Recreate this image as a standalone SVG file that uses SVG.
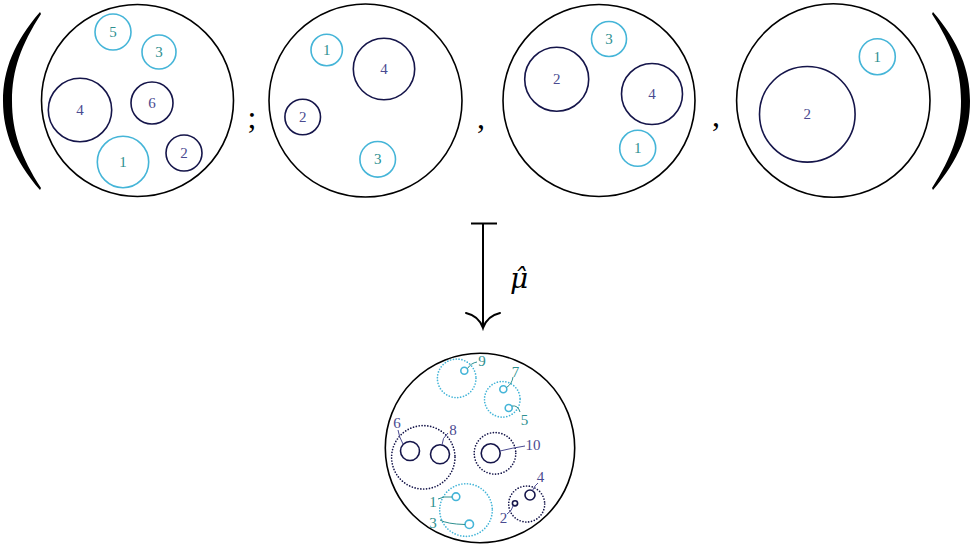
<svg xmlns="http://www.w3.org/2000/svg" width="971" height="545" viewBox="0 0 971 545">
<style>
.big{fill:none;stroke:#000;stroke-width:1.6}
.cy{fill:none;stroke:#45B5D8;stroke-width:1.6}
.nv{fill:none;stroke:#15154A;stroke-width:1.6}
.cyd{fill:none;stroke:#45B5D8;stroke-width:1.7;stroke-dasharray:0 2.9;stroke-linecap:round}
.nvd{fill:none;stroke:#15154A;stroke-width:1.7;stroke-dasharray:0 2.9;stroke-linecap:round}
.tc{font-family:"Liberation Serif","DejaVu Serif",serif;font-size:15px;fill:#2E9090;text-anchor:middle}
.tn{font-family:"Liberation Serif","DejaVu Serif",serif;font-size:15px;fill:#4A4A90;text-anchor:middle}
.lc{fill:none;stroke:#2E9090;stroke-width:1}
.ln{fill:none;stroke:#4A4A90;stroke-width:1}
.punct{font-family:"Liberation Serif","DejaVu Serif",serif;font-size:32px;fill:#000;text-anchor:middle}
</style>
<rect width="971" height="545" fill="#fff"/>
<g id="paren-left"><path d="M40,12 C14,42 3,70 3,101 C3,132 14,160 40,190 L41,188 C21,157 12,132 12,101 C12,70 21,45 41,14 Z" fill="#000"/></g>
<g id="paren-right" transform="translate(973,0) scale(-1,1)"><path d="M40,12 C14,42 3,70 3,101 C3,132 14,160 40,190 L41,188 C21,157 12,132 12,101 C12,70 21,45 41,14 Z" fill="#000"/></g>
<g id="punct">
<text class="punct" x="252" y="128">;</text>
<text class="punct" x="481" y="128">,</text>
<text class="punct" x="716" y="126">,</text>
</g>
<g id="config1">
<circle class="big" cx="137.5" cy="100.5" r="96"/>
<circle class="cy" cx="113" cy="32" r="18"/><text class="tc" x="113" y="37">5</text>
<circle class="cy" cx="159" cy="52" r="17"/><text class="tc" x="159" y="57">3</text>
<circle class="nv" cx="80" cy="110" r="31.7"/><text class="tn" x="80" y="115">4</text>
<circle class="nv" cx="152" cy="103" r="21"/><text class="tn" x="152" y="108">6</text>
<circle class="cy" cx="123" cy="162" r="25.7"/><text class="tc" x="123" y="167">1</text>
<circle class="nv" cx="184" cy="153" r="18"/><text class="tn" x="184" y="158">2</text>
</g>
<g id="config2">
<circle class="big" cx="365.5" cy="100.5" r="96.5"/>
<circle class="cy" cx="326.7" cy="50" r="15.7"/><text class="tc" x="326.7" y="55">1</text>
<circle class="nv" cx="384" cy="69" r="30.7"/><text class="tn" x="384" y="74">4</text>
<circle class="nv" cx="302.7" cy="117" r="17.8"/><text class="tn" x="302.7" y="122">2</text>
<circle class="cy" cx="377.7" cy="159.3" r="17.8"/><text class="tc" x="377.7" y="164.3">3</text>
</g>
<g id="config3">
<circle class="big" cx="599" cy="100.5" r="96"/>
<circle class="cy" cx="609" cy="39" r="17.5"/><text class="tc" x="609" y="44">3</text>
<circle class="nv" cx="556.7" cy="79.3" r="32"/><text class="tn" x="556.7" y="84.3">2</text>
<circle class="nv" cx="652" cy="94" r="30.5"/><text class="tn" x="652" y="99">4</text>
<circle class="cy" cx="637.7" cy="148.3" r="18"/><text class="tc" x="637.7" y="153.3">1</text>
</g>
<g id="config4">
<circle class="big" cx="833.3" cy="100.5" r="96.7"/>
<circle class="cy" cx="877.3" cy="56.7" r="18"/><text class="tc" x="877.3" y="61.7">1</text>
<circle class="nv" cx="807.3" cy="114.3" r="47.8"/><text class="tn" x="807.3" y="119.3">2</text>
</g>
<g id="connectors">
<path d="M471,223.5 H497" stroke="#000" stroke-width="2" fill="none"/>
<path d="M483,223.5 V328" stroke="#000" stroke-width="2" fill="none"/>
<path d="M466,313 Q479,316 483,328 Q487,316 500,313" stroke="#000" stroke-width="2" fill="none" stroke-linecap="round"/>
</g>
<g id="map-label">
<text x="519" y="288" text-anchor="middle" font-family="'DejaVu Serif',serif" font-style="italic" font-size="28" fill="#000">μ̂</text>
</g>
<g id="result">
<circle class="big" cx="480" cy="448" r="94.7"/>
<circle class="cyd" cx="456.7" cy="378.3" r="19.3"/>
<circle class="cy" cx="464.3" cy="370.7" r="3.5"/>
<path class="lc" d="M467.5,368.5 Q471,363 477,362"/>
<text class="tc" x="482" y="366">9</text>
<circle class="cyd" cx="502.3" cy="399.3" r="17.8"/>
<circle class="cy" cx="503.3" cy="389.3" r="3.5"/>
<circle class="cy" cx="508.7" cy="408" r="3.5"/>
<path class="lc" d="M506.5,387.5 Q512,384 513,377"/>
<path class="lc" d="M512,406 Q518,405 520,412"/>
<text class="tc" x="515.5" y="377">7</text>
<text class="tc" x="524.5" y="425">5</text>
<circle class="nvd" cx="423.3" cy="457.3" r="31.7"/>
<circle class="nv" cx="410" cy="451" r="9.5"/>
<circle class="nv" cx="440" cy="454.3" r="9.5"/>
<path class="ln" d="M403,444 Q399,437 398,430"/>
<path class="ln" d="M442,445 Q442,438 448,433"/>
<text class="tn" x="397" y="428">6</text>
<text class="tn" x="453" y="435">8</text>
<circle class="nvd" cx="495" cy="453.3" r="20.8"/>
<circle class="nv" cx="490.7" cy="453.3" r="9.5"/>
<path class="ln" d="M500,451 Q512,448 525,446"/>
<text class="tn" x="533" y="450">10</text>
<circle class="cyd" cx="466" cy="510" r="26.3"/>
<circle class="cy" cx="456" cy="496.7" r="3.8"/>
<circle class="cy" cx="469.3" cy="524.3" r="4.2"/>
<path class="lc" d="M452,497 Q443,496 438,499"/>
<path class="lc" d="M465,524.5 Q447,524 440,520"/>
<text class="tc" x="433" y="507">1</text>
<text class="tc" x="433" y="528">3</text>
<circle class="nvd" cx="526.7" cy="504" r="18"/>
<circle class="nv" cx="530" cy="495" r="5"/>
<circle class="nv" cx="515" cy="503.3" r="2.6"/>
<path class="ln" d="M532.5,490.5 Q535,485 538,483"/>
<path class="ln" d="M513,506 Q512,511 507,514"/>
<text class="tn" x="540.5" y="482">4</text>
<text class="tn" x="503.5" y="523">2</text>
</g>
</svg>
